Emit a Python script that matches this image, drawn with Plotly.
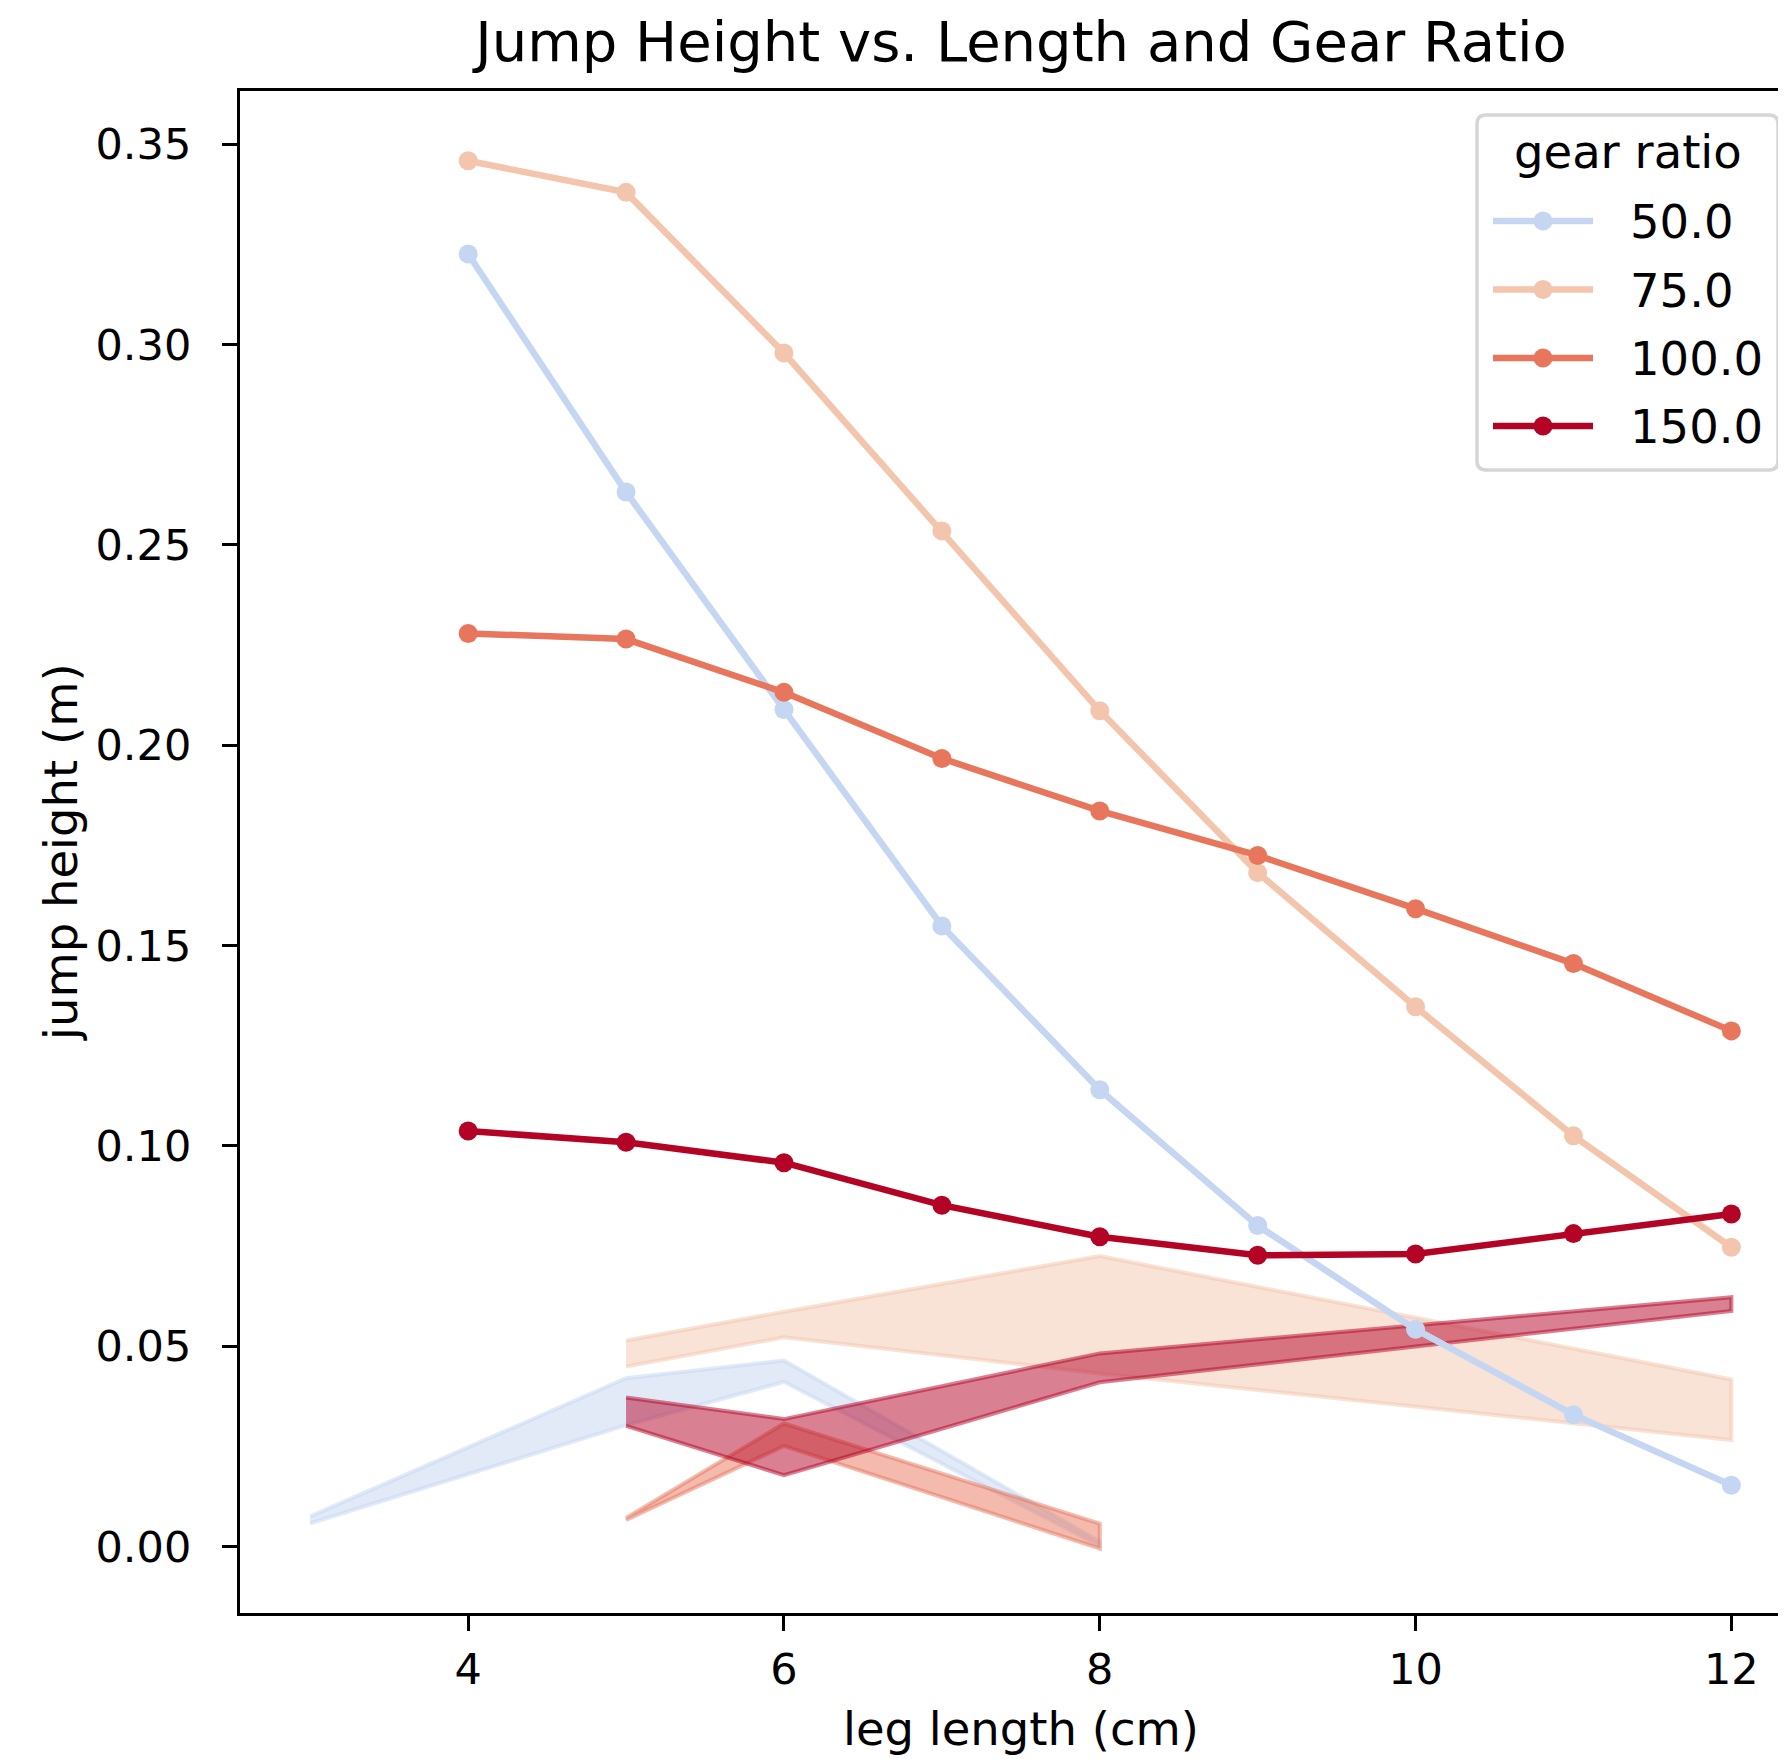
import plotly.graph_objects as go

# ---------------- data ----------------
leg_length = [4, 5, 6, 7, 8, 9, 10, 11, 12]
gear_labels = ["50.0", "75.0", "100.0", "150.0"]

jump_50 = [0.3226, 0.2632, 0.2089, 0.1549, 0.1140, 0.0801, 0.0542, 0.0329, 0.0153]
jump_75 = [0.3459, 0.3380, 0.2979, 0.2535, 0.2086, 0.1682, 0.1347, 0.1025, 0.0747]
jump_100 = [0.2279, 0.2265, 0.2132, 0.1967, 0.1836, 0.1725, 0.1592, 0.1455, 0.1287]
jump_150 = [0.1037, 0.1009, 0.0958, 0.0852, 0.0773, 0.0727, 0.0730, 0.0781, 0.0830]

band_x_50 = [3, 5, 6, 8]
band_lo_50 = [0.0058, 0.0303, 0.0411, 0.0002]
band_hi_50 = [0.0075, 0.0420, 0.0464, 0.0012]

band_x_75 = [5, 6, 8, 12]
band_lo_75 = [0.0449, 0.0522, 0.0432, 0.0266]
band_hi_75 = [0.0514, 0.0586, 0.0725, 0.0417]

band_x_100 = [5, 6, 8]
band_lo_100 = [0.0066, 0.0251, -0.0005]
band_hi_100 = [0.0071, 0.0307, 0.0057]

band_x_150 = [5, 6, 8, 12]
band_lo_150 = [0.0301, 0.0178, 0.0410, 0.0588]
band_hi_150 = [0.0372, 0.0318, 0.0482, 0.0622]

x_ticks = [4, 6, 8, 10, 12]
y_ticks = [0.00, 0.05, 0.10, 0.15, 0.20, 0.25, 0.30, 0.35]

# ---------------- styling ----------------
colors = ["#c5d6f2", "#f4c5ad", "#e8765c", "#b40426"]
colors_rgb = [(197, 214, 242), (244, 197, 173), (232, 118, 92), (180, 4, 38)]
FONT = "DejaVu Sans"

# page body has an 8px default margin: work in window pixels, convert to figure
OFF = 8
WIN_W, WIN_H = 1786, 1759
W, H = WIN_W - OFF, WIN_H - OFF
PL, PR, PT, PB = 240, 1786, 91, 1613   # plot area in window pixels
L, R, T, B = PL - OFF, (WIN_W - PR), PT - OFF, WIN_H - PB


def px_x(xw):
    return (xw - PL) / (PR - PL)


def px_y(yw):
    return (PB - yw) / (PB - PT)


fig = go.Figure()

bands = [
    (band_x_50, band_lo_50, band_hi_50),
    (band_x_75, band_lo_75, band_hi_75),
    (band_x_100, band_lo_100, band_hi_100),
    (band_x_150, band_lo_150, band_hi_150),
]
for (bx, lo, hi), rgb in zip(bands, colors_rgb):
    px = list(bx) + list(bx)[::-1]
    py = list(hi) + list(lo)[::-1]
    rgba = "rgba(%d,%d,%d,0.5)" % rgb
    fig.add_trace(go.Scatter(
        x=px, y=py, mode="lines", fill="toself", fillcolor=rgba,
        line=dict(color=rgba, width=4), showlegend=False, hoverinfo="skip"))

series = [jump_50, jump_75, jump_100, jump_150]
for i, (ys, name, c) in enumerate(zip(series, gear_labels, colors)):
    fig.add_trace(go.Scatter(
        x=leg_length, y=ys, mode="lines+markers", name=name,
        line=dict(color=c, width=6.5),
        marker=dict(color=c, size=19, line=dict(width=0)),
        showlegend=False))

fig.update_layout(
    width=W, height=H,
    margin=dict(l=L, r=R, t=T, b=B, pad=0),
    paper_bgcolor="white", plot_bgcolor="white",
    font=dict(family=FONT, size=43, color="black"),
    title=dict(text="Jump Height vs. Length and Gear Ratio",
               font=dict(family=FONT, size=56, color="black"),
               x=(1021 - OFF) / W, xanchor="center", xref="container",
               y=1 - 33 / H, yanchor="middle", yref="container"),
    showlegend=False,
    xaxis=dict(range=[2.555, 12.346], tickvals=x_ticks,
               ticktext=[str(v) for v in x_ticks],
               showgrid=False, zeroline=False,
               showline=True, linecolor="black", linewidth=3.3, mirror=True,
               ticks="outside", ticklen=15, tickwidth=3.3, tickcolor="black",
               tickfont=dict(family=FONT, size=43, color="black"),
               ticklabelstandoff=1),
    yaxis=dict(range=[-0.0166, 0.3633], tickvals=y_ticks,
               ticktext=["%.2f" % v for v in y_ticks],
               showgrid=False, zeroline=False,
               showline=True, linecolor="black", linewidth=3.3, mirror=False,
               ticks="outside", ticklen=15, tickwidth=3.3, tickcolor="black",
               tickfont=dict(family=FONT, size=43, color="black"),
               ticklabelstandoff=22),
)

# axis titles
fig.add_annotation(text="leg length (cm)", xref="paper", yref="paper",
                   x=px_x(1021), y=px_y(1729), xanchor="center", yanchor="middle",
                   showarrow=False, font=dict(family=FONT, size=46.5, color="black"))
fig.add_annotation(text="jump height (m)", xref="paper", yref="paper",
                   x=px_x(61), y=px_y(852), xanchor="center", yanchor="middle",
                   textangle=-90, showarrow=False,
                   font=dict(family=FONT, size=46.5, color="black"))

# ---------------- legend (drawn in window pixels) ----------------
bx0, bx1, by0, by1, rad = 1477, 1778, 115, 470, 9
rx = rad / (PR - PL)
ry = rad / (PB - PT)
X0, X1, Y0, Y1 = px_x(bx0), px_x(bx1), px_y(by1), px_y(by0)
path = (f"M{X0 + rx},{Y0} L{X1 - rx},{Y0} Q{X1},{Y0} {X1},{Y0 + ry} "
        f"L{X1},{Y1 - ry} Q{X1},{Y1} {X1 - rx},{Y1} L{X0 + rx},{Y1} "
        f"Q{X0},{Y1} {X0},{Y1 - ry} L{X0},{Y0 + ry} Q{X0},{Y0} {X0 + rx},{Y0} Z")
fig.add_shape(type="path", path=path, xref="paper", yref="paper",
              fillcolor="rgba(255,255,255,0.85)",
              line=dict(color="#d6d6d6", width=3.5), layer="above")

fig.add_annotation(text="gear ratio", xref="paper", yref="paper",
                   x=px_x(1628), y=px_y(152), xanchor="center", yanchor="middle",
                   showarrow=False, font=dict(family=FONT, size=46.5, color="black"))

entry_y = [221, 289.5, 358, 426]
for name, c, ey in zip(gear_labels, colors, entry_y):
    fig.add_shape(type="line", xref="paper", yref="paper",
                  x0=px_x(1493), x1=px_x(1593), y0=px_y(ey), y1=px_y(ey),
                  line=dict(color=c, width=6.5), layer="above")
    fig.add_shape(type="circle", xref="paper", yref="paper",
                  xsizemode="pixel", ysizemode="pixel",
                  xanchor=px_x(1543), yanchor=px_y(ey),
                  x0=-9.5, x1=9.5, y0=-9.5, y1=9.5,
                  fillcolor=c, line=dict(width=0), layer="above")
    fig.add_annotation(text=name, xref="paper", yref="paper",
                       x=px_x(1628), y=px_y(ey + 1), xanchor="left", yanchor="middle",
                       showarrow=False, font=dict(family=FONT, size=46.5, color="black"))

fig.write_html("out.html")
